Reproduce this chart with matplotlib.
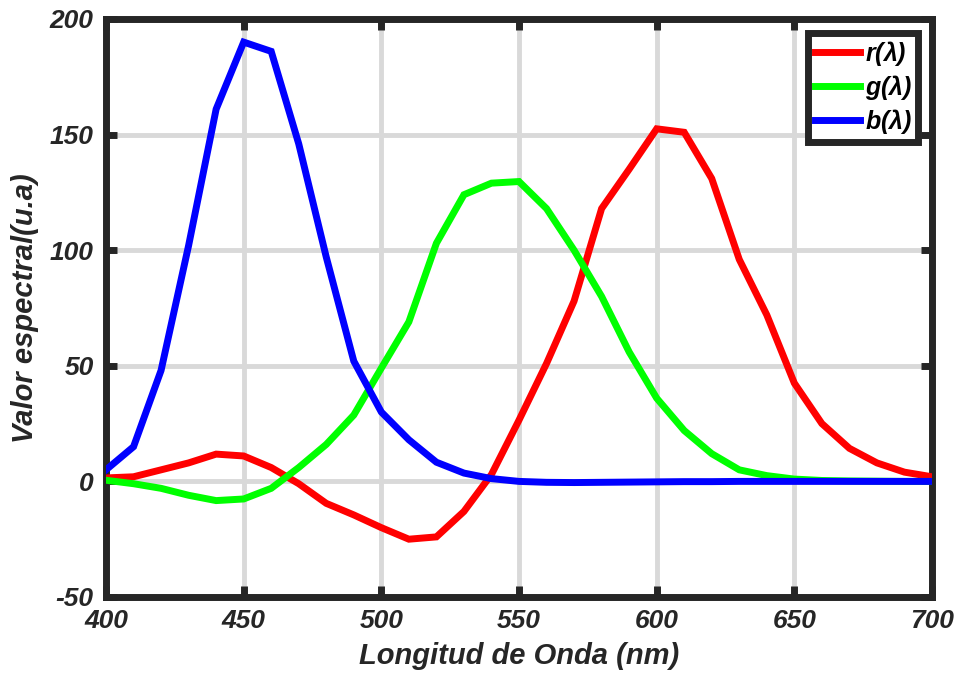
import numpy as np
import matplotlib
matplotlib.use("Agg")
import matplotlib.pyplot as plt

# wavelength samples (nm) and the three colour-matching curves
wavelength = np.arange(400, 701, 10)
r_vals = [1.5, 2, 5, 8, 11.8, 11, 6, -1, -9.5, -14.5, -20, -25, -24, -13, 3,
          26.5, 51, 78, 118, 135, 152.5, 151, 131, 96, 72, 42.5, 25, 14.3, 8, 4, 2]
g_vals = [0.5, -1, -3, -6, -8.3, -7.6, -3, 6, 16, 28.7, 49, 69, 103, 124, 129,
          129.7, 118, 100, 80, 56, 36, 22, 12, 5, 2.5, 1, 0.4, 0.2, 0.1, 0, 0]
b_vals = [5, 15, 48, 102, 161, 190, 186, 146, 97, 52, 30, 18, 8.3, 3.6, 1.2,
          0, -0.4, -0.5, -0.4, -0.3, -0.2, -0.1, -0.1, 0, 0, 0, 0, 0, 0, 0, 0]
labels = [r"r($\lambda$)", r"g($\lambda$)", r"b($\lambda$)"]
colors = ["#ff0000", "#00ff00", "#0000ff"]

plt.rcParams.update({
    "font.family": ["Liberation Sans", "DejaVu Sans"],
    "font.weight": "bold",
    "font.style": "italic",
    "axes.unicode_minus": False,
    "mathtext.fontset": "custom",
    "mathtext.it": "Liberation Sans:bold:italic",
    "mathtext.rm": "Liberation Sans:bold:italic",
})

fig = plt.figure(figsize=(9.6, 6.82), dpi=100)
ax = fig.add_axes([106 / 960, 1 - 597 / 682, 826 / 960, 578 / 682])

for y, lab, col in zip([r_vals, g_vals, b_vals], labels, colors):
    ax.plot(wavelength, y, color=col, linewidth=5, label=lab,
            solid_joinstyle="miter", zorder=3)

ax.set_xlim(400, 700)
ax.set_ylim(-50, 200)
ax.set_xticks(np.arange(400, 701, 50))
ax.set_yticks(np.arange(-50, 201, 50))
ax.grid(True, color="#d9d9d9", linewidth=3.5)
ax.set_axisbelow(True)

for sp in ax.spines.values():
    sp.set_linewidth(5)
    sp.set_color("#262626")
ax.tick_params(direction="in", length=8, width=5, color="#262626",
               top=True, right=True, labelsize=19)
ax.tick_params(axis="x", pad=9)
ax.tick_params(axis="y", pad=9)
for t in ax.get_xticklabels() + ax.get_yticklabels():
    t.set_fontweight("bold")
    t.set_fontstyle("italic")
    t.set_color("#262626")

ax.set_xlabel("Longitud de Onda (nm)", fontsize=21, fontweight="bold",
              fontstyle="italic", labelpad=6, color="#262626")
ax.set_ylabel("Valor espectral(u.a)", fontsize=21, fontweight="bold",
              fontstyle="italic", labelpad=8, color="#262626")

leg = ax.legend(loc="upper right", bbox_to_anchor=(0.983, 0.976), fontsize=18,
                handlelength=1.8, handletextpad=0.2, borderpad=0.25,
                labelspacing=0.2, borderaxespad=0, fancybox=False, framealpha=1)
leg.get_frame().set_edgecolor("#262626")
leg.get_frame().set_linewidth(5)

fig.savefig("out.png", dpi=100)
